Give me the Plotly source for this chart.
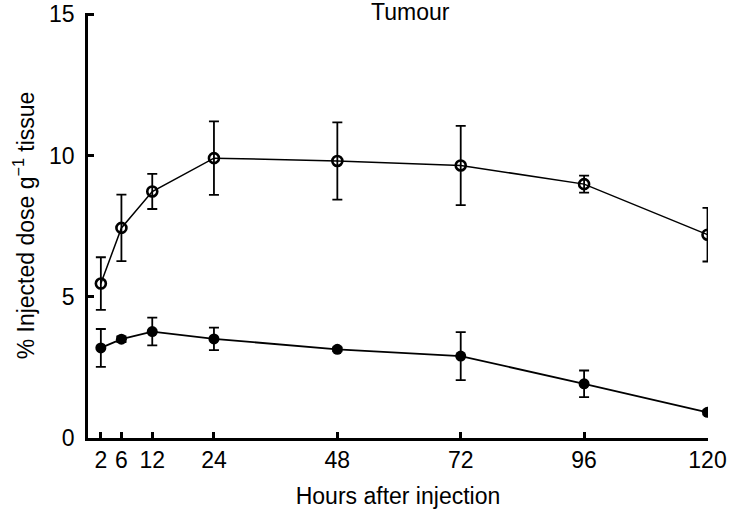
import plotly.graph_objects as go

hours = [2, 6, 12, 24, 48, 72, 96, 120]
open_vals = [5.47, 7.44, 8.73, 9.91, 9.81, 9.65, 8.99, 7.20]
open_err = [0.93, 1.18, 0.62, 1.30, 1.37, 1.40, 0.30, 0.95]
filled_vals = [3.19, 3.50, 3.77, 3.51, 3.14, 2.90, 1.92, 0.91]
filled_err = [0.67, 0.10, 0.49, 0.40, 0.07, 0.85, 0.47, 0.08]

x_ticks = [2, 6, 12, 24, 48, 72, 96, 120]
y_ticks = [0, 5, 10, 15]

FONT = "Liberation Sans, Arial, Helvetica, sans-serif"
FS = 23

W, H = 730, 511
ML, MR, MT, MB = 88, 22, 13, 73

fig = go.Figure()
fig.add_trace(go.Scatter(
    x=hours, y=open_vals, mode="lines+markers",
    line=dict(color="black", width=1.5),
    marker=dict(symbol="circle-open", size=10, color="black", line=dict(width=2.6)),
    error_y=dict(type="data", array=open_err, visible=True, color="black",
                 thickness=1.8, width=5),
    showlegend=False,
))
fig.add_trace(go.Scatter(
    x=hours, y=filled_vals, mode="lines+markers",
    line=dict(color="black", width=1.8),
    marker=dict(symbol="circle", size=11, color="black"),
    error_y=dict(type="data", array=filled_err, visible=True, color="black",
                 thickness=1.8, width=5),
    showlegend=False,
))

fig.update_layout(
    width=W, height=H,
    margin=dict(l=ML, r=MR, t=MT, b=MB),
    paper_bgcolor="white", plot_bgcolor="white",
    font=dict(family=FONT, size=FS, color="black"),
    xaxis=dict(
        range=[-0.5, 120.1], tickmode="array", tickvals=x_ticks,
        ticktext=[str(t) for t in x_ticks],
        ticks="inside", ticklen=6, tickwidth=2.5, tickcolor="black",
        showline=True, linecolor="black", linewidth=2.5,
        showgrid=False, zeroline=False, automargin=False,
        ticklabelstandoff=0,
        title=dict(text="Hours after injection", font=dict(size=FS), standoff=16),
        tickfont=dict(size=FS),
    ),
    yaxis=dict(
        range=[0, 15.05], tickmode="array", tickvals=y_ticks,
        ticks="inside", ticklen=6, tickwidth=2.5, tickcolor="black",
        showline=True, linecolor="black", linewidth=2.5,
        showgrid=False, zeroline=False, automargin=False,
        ticklabelstandoff=6,
        title=dict(text="% Injected dose g<sup>−1</sup> tissue", font=dict(size=FS), standoff=9),
        tickfont=dict(size=FS),
    ),
    annotations=[dict(
        text="Tumour", xref="paper", yref="paper",
        x=(410 - ML) / (W - ML - MR), y=1.0, xanchor="center", yanchor="middle",
        yshift=1, showarrow=False, font=dict(size=FS, family=FONT),
    )],
)

fig.write_html(
    "out.html",
    config={"displayModeBar": False},
    post_script="document.body.style.margin='0';document.body.style.padding='0';",
)
